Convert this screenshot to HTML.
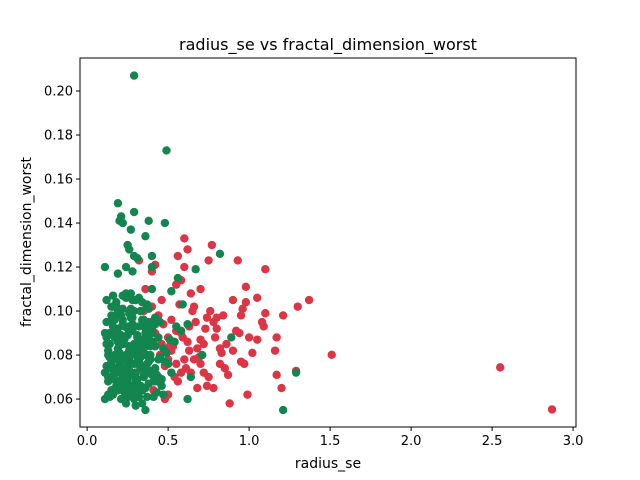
<!DOCTYPE html>
<html><head><meta charset="utf-8"><style>
body{margin:0;background:#fff;}
svg{display:block;font-family:"DejaVu Sans","Liberation Sans",sans-serif;}
</style></head><body>
<svg id="chart" width="640" height="480">
<rect width="640" height="480" fill="#fff"/>
<text x="328" y="50" text-anchor="middle" font-size="16">radius_se vs fractal_dimension_worst</text>
<g id="points"></g>
<rect x="80" y="58" width="496" height="369" fill="none" stroke="#000" stroke-width="1"/>
<g id="axes"></g>
<text x="328" y="468" text-anchor="middle" font-size="14">radius_se</text>
<text transform="translate(31,242) rotate(-90)" text-anchor="middle" font-size="14">fractal_dimension_worst</text>
</svg>
<script>
const xTicks=[0.0,0.5,1.0,1.5,2.0,2.5,3.0];
const xTickLabels=["0.0","0.5","1.0","1.5","2.0","2.5","3.0"];
const yTicks=[0.06,0.08,0.10,0.12,0.14,0.16,0.18,0.20];
const yTickLabels=["0.06","0.08","0.10","0.12","0.14","0.16","0.18","0.20"];
const redX=[2.87,2.55,1.51,1.37,1.30,1.29,1.20,1.21,1.17,1.16,1.17,1.10,1.10,1.09,1.08,1.05,1.05,1.00,0.99,0.98,0.98,0.96,0.95,0.95,0.93,0.92,0.90,0.88,0.85,0.82,0.83,0.80,0.78,0.77,0.75,0.76,0.73,0.72,0.70,0.70,0.68,0.68,0.66,0.65,0.62,0.60,0.60,0.58,0.56,0.55,0.55,0.57,0.63,0.62,0.60,0.58,0.56,0.52,0.50,0.48,0.46,0.44,0.42,0.40,0.42,0.38,0.36,0.34,0.38,0.32,0.30,0.32,0.48,0.50,0.54,0.64,0.66,0.72,0.74,0.78,0.82,0.86,0.80,0.90,0.94,0.84,0.70,0.64,0.52,0.46,0.40,0.36,0.45,0.50,0.53,0.58,0.61,0.67,0.71,0.75,0.79,0.44,0.41,0.39,0.35,0.47,0.51,0.55,0.59,0.63,0.69,0.74,0.87,0.97,1.02];
const redY=[0.0553,0.0744,0.0801,0.105,0.102,0.0728,0.065,0.098,0.071,0.082,0.088,0.119,0.099,0.093,0.095,0.106,0.087,0.088,0.062,0.111,0.104,0.101,0.098,0.077,0.123,0.091,0.105,0.058,0.074,0.083,0.081,0.097,0.095,0.130,0.123,0.100,0.092,0.085,0.087,0.076,0.065,0.083,0.102,0.100,0.128,0.133,0.120,0.114,0.125,0.112,0.091,0.103,0.093,0.086,0.078,0.072,0.068,0.082,0.088,0.075,0.085,0.098,0.121,0.118,0.090,0.085,0.080,0.075,0.095,0.123,0.072,0.066,0.060,0.062,0.070,0.072,0.078,0.072,0.066,0.065,0.076,0.085,0.092,0.082,0.090,0.098,0.110,0.108,0.096,0.105,0.102,0.110,0.080,0.078,0.084,0.090,0.074,0.095,0.080,0.070,0.088,0.070,0.064,0.092,0.100,0.094,0.084,0.076,0.088,0.082,0.079,0.097,0.071,0.076,0.081];
const greenX=[0.29,0.49,0.19,0.21,0.20,0.29,0.22,0.38,0.48,0.27,0.36,0.25,0.26,0.29,0.31,0.40,0.11,0.24,0.28,0.19,0.40,0.82,0.67,1.21,1.29,0.89,0.56,0.52,0.59,0.62,0.64,0.71,0.62,0.55,0.47,
0.12,0.13,0.14,0.15,0.16,0.17,0.18,0.19,0.20,0.21,0.22,0.23,0.24,0.25,0.26,0.27,0.28,0.29,0.30,0.31,0.32,0.33,0.34,0.35,0.36,0.37,0.38,0.39,0.40,0.42,0.44,0.46,
0.12,0.14,0.16,0.18,0.20,0.22,0.24,0.26,0.28,0.30,0.32,0.34,0.36,0.38,0.40,0.43,0.47,0.50,
0.13,0.15,0.17,0.19,0.21,0.23,0.25,0.27,0.29,0.31,0.33,0.35,0.37,0.39,0.41,0.45,0.51,
0.12,0.14,0.16,0.18,0.20,0.22,0.24,0.26,0.28,0.30,0.32,0.34,0.36,0.38,0.42,0.48,0.54,
0.13,0.15,0.17,0.19,0.21,0.23,0.25,0.27,0.29,0.31,0.33,0.35,0.37,0.40,0.44,
0.12,0.15,0.18,0.20,0.22,0.24,0.26,0.28,0.30,0.33,0.36,0.39,0.43,0.49,
0.14,0.17,0.20,0.23,0.26,0.29,0.32,0.35,0.38,0.42,0.46,0.52,0.58,
0.16,0.19,0.22,0.25,0.28,0.31,0.34,0.37,0.41,0.45,
0.15,0.18,0.21,0.24,0.27,0.30,0.33,0.36,0.40,
0.11,0.13,0.16,0.18,0.21,0.23,0.26,0.28,0.31,0.33,0.36,0.38,0.41,0.43,0.11,0.14,0.17,0.19,0.22,0.25,0.27,0.30,0.32,0.35,0.37,0.40,0.44,0.12,0.15,0.18,0.21,0.24,0.26,0.29,0.31,0.34,0.37,0.39,0.42,0.13,0.16,0.19,0.22,0.25,0.28,0.30,0.33,0.35,0.38,0.14,0.17,0.20,0.23,0.27,0.32,0.36,0.11,0.15,0.19,0.24];
const greenY=[0.207,0.173,0.149,0.143,0.141,0.145,0.140,0.141,0.140,0.137,0.134,0.130,0.128,0.125,0.124,0.125,0.120,0.120,0.118,0.117,0.120,0.126,0.119,0.055,0.072,0.088,0.115,0.109,0.103,0.094,0.070,0.080,0.060,0.093,0.062,
0.095,0.068,0.085,0.077,0.102,0.072,0.090,0.064,0.081,0.098,0.070,0.087,0.106,0.075,0.093,0.066,0.083,0.100,0.072,0.089,0.061,0.079,0.096,0.070,0.085,0.103,0.067,0.080,0.092,0.074,0.088,0.069,
0.075,0.090,0.062,0.098,0.072,0.085,0.060,0.078,0.094,0.068,0.082,0.104,0.065,0.077,0.090,0.071,0.083,0.076,
0.082,0.096,0.074,0.086,0.060,0.079,0.092,0.063,0.076,0.088,0.100,0.071,0.080,0.095,0.068,0.079,0.087,
0.088,0.079,0.093,0.068,0.087,0.101,0.066,0.084,0.071,0.080,0.093,0.064,0.075,0.088,0.084,0.077,0.086,
0.070,0.102,0.080,0.092,0.075,0.066,0.089,0.097,0.060,0.076,0.086,0.096,0.061,0.071,0.095,
0.105,0.064,0.104,0.076,0.094,0.080,0.073,0.091,0.065,0.074,0.090,0.078,0.068,0.081,
0.061,0.088,0.067,0.073,0.099,0.085,0.077,0.083,0.072,0.097,0.066,0.072,0.091,
0.107,0.083,0.107,0.062,0.105,0.077,0.058,0.102,0.061,0.095,
0.098,0.102,0.074,0.058,0.108,0.057,0.100,0.055,0.110,
0.090,0.080,0.070,0.091,0.067,0.093,0.082,0.097,0.083,0.065,0.092,0.073,0.086,0.063,0.072,0.062,0.096,0.078,0.085,0.069,0.101,0.062,0.106,0.087,0.094,0.072,0.078,0.085,0.074,0.066,0.089,0.078,0.091,0.071,0.069,0.087,0.076,0.084,0.094,0.062,0.073,0.087,0.096,0.070,0.082,0.105,0.066,0.094,0.101,0.079,0.069,0.068,0.063,0.080,0.086,0.074,0.060,0.075,0.100,0.108];
const X0=-0.044,X1=3.018,Y0=0.0473,Y1=0.215;
const L=80,R=576,T=58,B=427;
function sx(v){return L+(v-X0)/(X1-X0)*(R-L);}
function sy(v){return B-(v-Y0)/(Y1-Y0)*(B-T);}
const NS="http://www.w3.org/2000/svg";
const pts=document.getElementById('points');
function draw(xs,ys,col,name){
  for(let i=0;i<xs.length;i++){
    const c=document.createElementNS(NS,'circle');
    c.setAttribute('cx',sx(xs[i]));c.setAttribute('cy',sy(ys[i]));
    c.setAttribute('r',4.2);c.setAttribute('fill',col);
    
    
    pts.appendChild(c);
  }
}
draw(redX,redY,'#dc3545','point-malignant');
draw(greenX,greenY,'#13854f','point-benign');
const ax=document.getElementById('axes');
xTicks.forEach((v,i)=>{
  const x=sx(v);
  const l=document.createElementNS(NS,'line');
  l.setAttribute('x1',x);l.setAttribute('x2',x);l.setAttribute('y1',B);l.setAttribute('y2',B+4);l.setAttribute('stroke','#000');
  
  
  ax.appendChild(l);
  const t=document.createElementNS(NS,'text');
  t.setAttribute('x',x);t.setAttribute('y',B+18);t.setAttribute('text-anchor','middle');t.setAttribute('font-size','13');
  t.textContent=xTickLabels[i];
  
  
  ax.appendChild(t);
});
yTicks.forEach((v,i)=>{
  const y=sy(v);
  const l=document.createElementNS(NS,'line');
  l.setAttribute('x1',L-4);l.setAttribute('x2',L);l.setAttribute('y1',y);l.setAttribute('y2',y);l.setAttribute('stroke','#000');
  
  
  ax.appendChild(l);
  const t=document.createElementNS(NS,'text');
  t.setAttribute('x',L-7);t.setAttribute('y',y+4.5);t.setAttribute('text-anchor','end');t.setAttribute('font-size','13');
  t.textContent=yTickLabels[i];
  
  
  ax.appendChild(t);
});
</script>
</body></html>
